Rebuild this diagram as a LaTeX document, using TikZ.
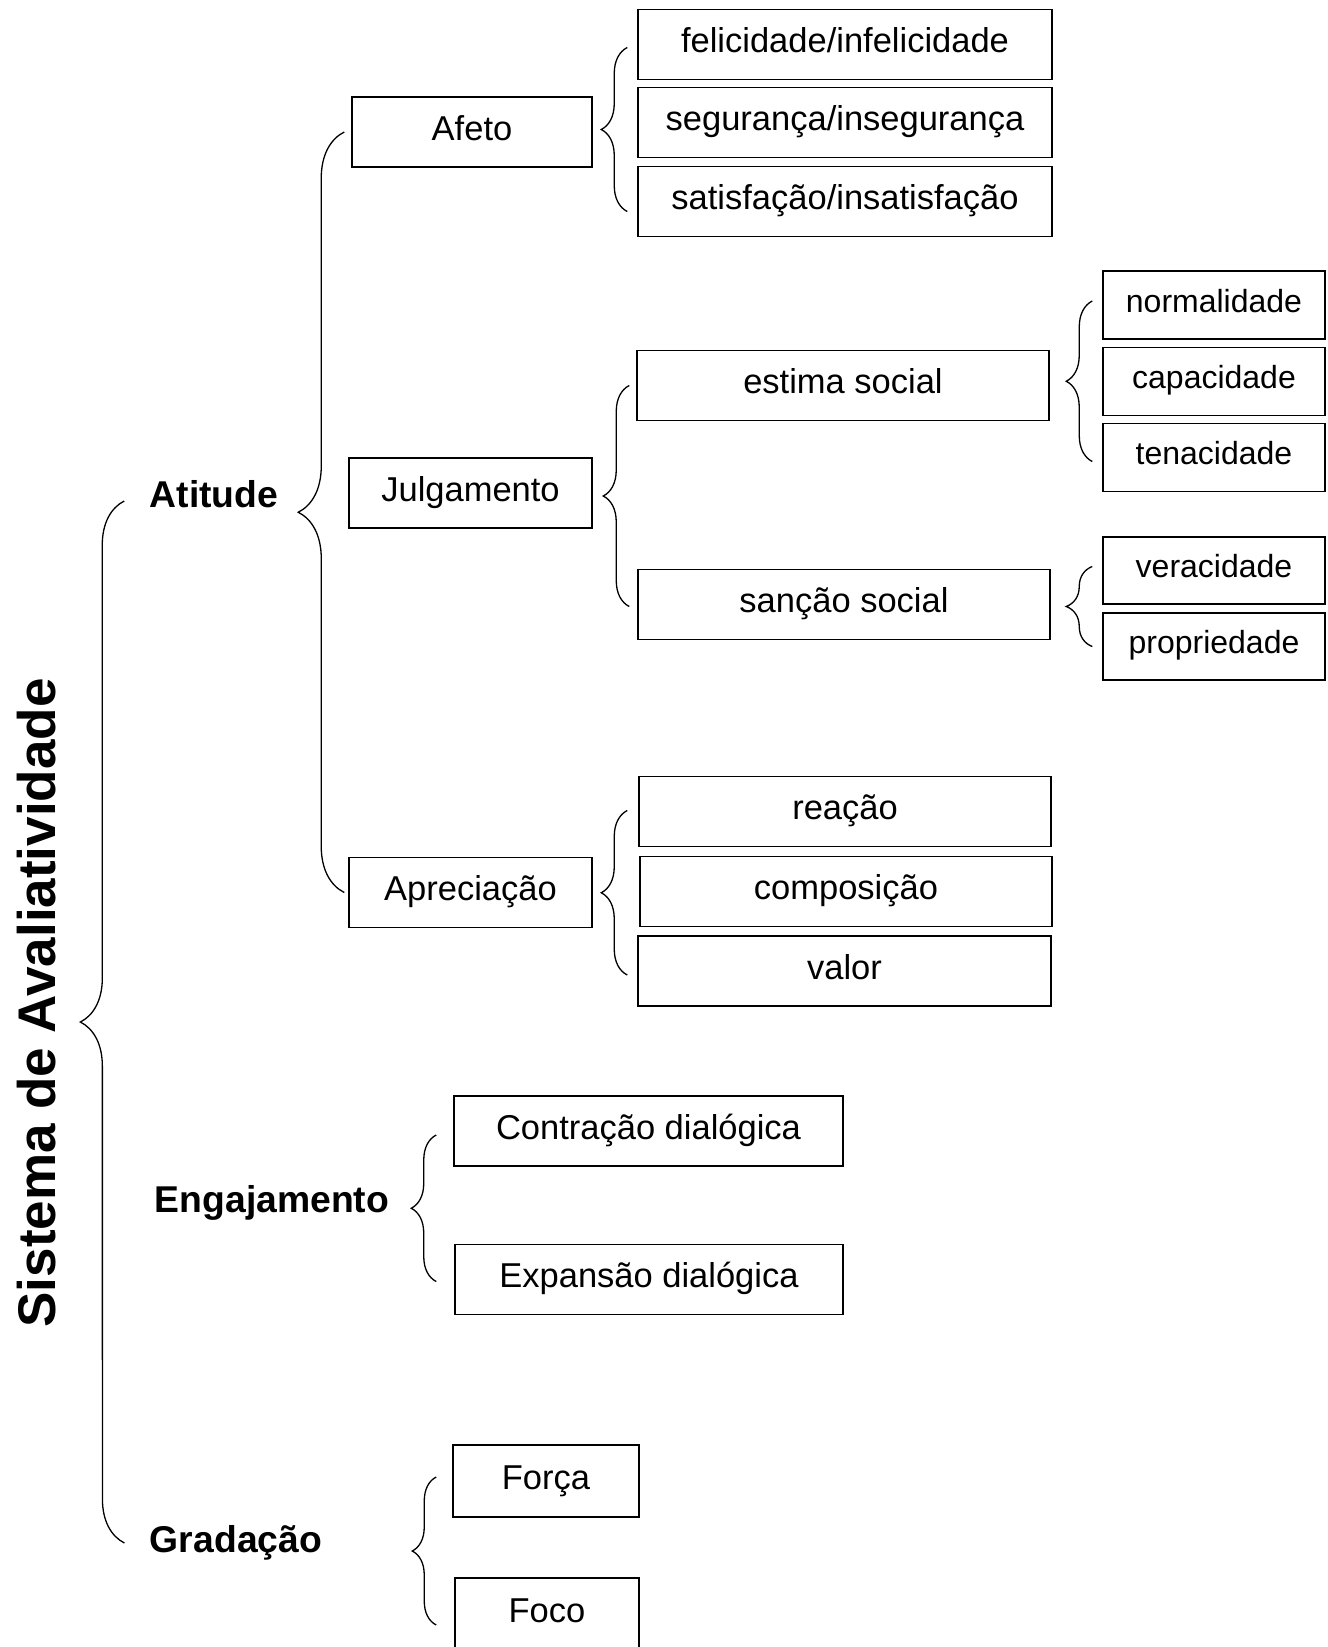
\documentclass[tikz,border=0pt]{standalone}
\usepackage{fontspec}
\setmainfont{Liberation Sans}
\usetikzlibrary{decorations.pathreplacing}

\begin{document}
\begin{tikzpicture}[x=1pt,y=-1pt,
    caixa/.style={draw, line width=1.5pt, inner sep=0pt, minimum height=70pt,
        text height=25pt, text depth=9pt, font=\fontsize{34.5}{40}\selectfont},
    menor/.style={caixa, minimum width=222pt, text height=24pt, text depth=10pt,
        font=\fontsize{32}{38}\selectfont},
    rotulo/.style={font=\fontsize{37.3}{42}\selectfont\bfseries},
    chave/.style={decorate, line width=1.3pt, decoration={brace, amplitude=#1}},
    chave/.default=26pt]
    \useasboundingbox (0,0) rectangle (1328,1647);

    % --- Raiz e categorias ---
    \node[rotate=90, font=\fontsize{53}{60}\selectfont\bfseries] (sistema) at (37,1003) {Sistema de Avaliatividade};
    \node[rotulo] (atitude) at (214,494) {Atitude};
    \node[rotulo] (engaj) at (272,1203) {Engajamento};
    \node[rotulo] (grad) at (236,1543) {Gradação};

    % --- Atitude ---
    \node[caixa, minimum width=240pt] (afeto) at (472,132) {Afeto};
    \node[caixa, minimum width=243pt] (julg) at (470.5,493) {Julgamento};
    \node[caixa, minimum width=243pt] (aprec) at (470.5,892.5) {Apreciação};

    \node[caixa, minimum width=414pt] (fel) at (845,44.5) {felicidade/infelicidade};
    \node[caixa, minimum width=414pt] (seg) at (845,122.5) {segurança/insegurança};
    \node[caixa, minimum width=414pt] (sat) at (845,201.5) {satisfação/insatisfação};

    \node[caixa, minimum width=412pt] (estima) at (843,385.5) {estima social};
    \node[caixa, minimum width=412pt] (sancao) at (844,604.5) {sanção social};

    \node[menor, minimum height=68pt] (normal) at (1214,305) {normalidade};
    \node[menor, minimum height=68pt] (capac) at (1214,381.5) {capacidade};
    \node[menor, minimum height=68pt] (tenac) at (1214,457.5) {tenacidade};
    \node[menor, minimum height=67pt] (verac) at (1214,570.5) {veracidade};
    \node[menor, minimum height=67pt] (propr) at (1214,646.5) {propriedade};

    \node[caixa, minimum width=412pt] (reacao) at (845,811.5) {reação};
    \node[caixa, minimum width=412pt] (compos) at (846,891.5) {composição};
    \node[caixa, minimum width=413pt] (valor) at (844.5,971) {valor};

    % --- Engajamento e Gradação ---
    \node[caixa, minimum width=389pt] (contr) at (648.5,1131) {Contração dialógica};
    \node[caixa, minimum width=388pt] (expan) at (649,1279.5) {Expansão dialógica};
    \node[caixa, minimum width=186pt, minimum height=72pt] (forca) at (546,1481) {Força};
    \node[caixa, minimum width=184pt, minimum height=72pt] (foco) at (547,1614) {Foco};

    % --- Chaves ---
    \draw[chave=44pt] ([xshift=-22pt]grad.west) -- ([xshift=-22pt,yshift=-7pt]atitude.west);
    \draw[chave=46pt] ([xshift=-4pt]aprec.west) -- ([xshift=-4pt]aprec.west |- afeto.west);
    \draw[chave] ([xshift=-10pt,yshift=-10pt]sat.west) -- ([xshift=-10pt,yshift=-3pt]fel.west);
    \draw[chave] ([xshift=-8pt,yshift=-2pt]sancao.west) -- ([xshift=-7pt]estima.west);
    \draw[chave] ([xshift=-10pt,yshift=-4pt]tenac.west) -- ([xshift=-10pt,yshift=4pt]normal.west);
    \draw[chave] ([xshift=-10pt]propr.west) -- ([xshift=-10pt,yshift=4pt]verac.west);
    \draw[chave] ([xshift=-10pt,yshift=-4pt]valor.west) -- ([xshift=-11pt,yshift=1pt]reacao.west);
    \draw[chave=25pt] ([xshift=-18pt,yshift=-2pt]expan.west) -- ([xshift=-17pt,yshift=-4pt]contr.west);
    \draw[chave=24pt] ([xshift=-18pt,yshift=-11pt]foco.west) -- ([xshift=-16pt,yshift=4pt]forca.west);
\end{tikzpicture}
\end{document}
